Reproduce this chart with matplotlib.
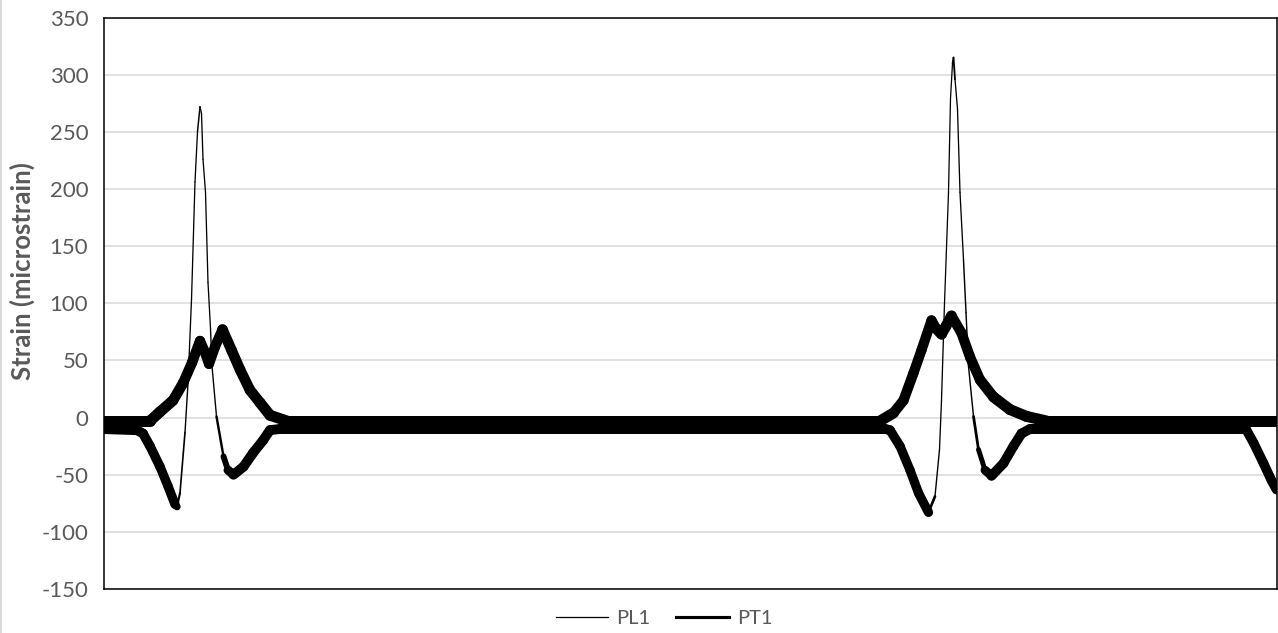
import matplotlib
matplotlib.use('Agg')
import matplotlib.pyplot as plt
from matplotlib.lines import Line2D
from matplotlib.collections import LineCollection
import numpy as np

# nominal time axis (no labels shown on the original chart)
t_pl1 = [0, 33.5, 39.5, 46.5, 56.5, 64.5, 71.5, 73.5, 76.5, 81.5, 84.5, 88, 91.5, 94,
         96.5, 98, 99.5, 102, 104.5, 107, 108.5, 113, 120, 124.5, 130, 140, 149.5,
         159.5, 166.5, 176.5, 781.5, 786.5, 796.5, 806.5, 815, 825, 831.5, 836, 838,
         841, 845, 847, 849, 850, 851.5, 854, 856.5, 860, 862.5, 865, 870, 875, 881.5,
         888, 900, 910, 918, 926.5, 1141.5, 1143, 1150, 1160, 1168, 1173]
pl1 = [-10, -11, -14, -25, -43, -60, -76, -78, -66, -13, 30, 103, 206, 250,
       272, 266, 226, 197, 118, 78, 45, 1, -34, -46, -50, -43, -31,
       -20, -11, -10, -10, -11, -25, -46, -66, -83, -69, -28, 15,
       100, 197, 279, 310, 315, 296, 270, 197, 138, 92, 45, 1, -28, -46,
       -51, -40, -25, -14, -10, -10, -11, -22, -40, -55, -63]

t_pt1 = [0, 46.5, 56.5, 69.5, 79.5, 88.5, 96.5, 101.5, 105.5, 111.5, 119, 128, 136.5,
         146.5, 156.5, 166.5, 183.5, 776.5, 790, 800, 810, 818, 828, 832.5, 838,
         842.5, 848, 858, 866.5, 876.5, 890, 906.5, 923, 943, 1173]
pt1 = [-3, -3, 5, 15, 30, 48, 67, 57, 47, 62, 77, 59, 42,
       24, 13, 2, -3, -3, 4, 15, 39, 59, 85, 78, 73,
       80, 89, 74, 53, 33, 18, 7, 1, -3, -3]

y_ticks = np.arange(-150, 351, 50)

plt.rcParams['font.family'] = ['Lato', 'DejaVu Sans']
grey_text = '#595959'

W, H = 1278, 633
ax_box = [103.5, 17.5, 1276.5, 589]   # left, top, right, bottom in pixels

fig = plt.figure(figsize=(W / 100, H / 100), dpi=100)
ax = fig.add_axes([ax_box[0] / W, 1 - ax_box[3] / H,
                   (ax_box[2] - ax_box[0]) / W, (ax_box[3] - ax_box[1]) / H])
px_per_unit = (ax_box[3] - ax_box[1]) / 500.0


def noisy_trace(t, v, band_px, thin_pt):
    # the recorded signals carry a noise band; it only shows as a thick
    # stroke where the trace moves slowly, steep flanks stay a thin line
    t = np.asarray(t, float)
    v = np.asarray(v, float)
    pts = np.column_stack([t, v])
    segs = np.stack([pts[:-1], pts[1:]], axis=1)
    slope = np.abs(np.diff(v) * px_per_unit / np.diff(t))
    # a segment sitting inside a steep excursion counts as steep too
    padded = np.concatenate([[0], slope, [0]])
    steep = np.maximum(np.maximum(padded[:-2], padded[2:]), slope)
    thin_px = thin_pt / 0.72
    lw_px = thin_px + (band_px - thin_px) / (1 + (steep / 6.0) ** 3)
    lc = LineCollection(segs, linewidths=lw_px * 0.72, colors='black',
                        capstyle='round', joinstyle='round')
    ax.add_collection(lc)


noisy_trace(t_pl1, pl1, 10.0, 0.9)
noisy_trace(t_pt1, pt1, 11.0, 2.25)

ax.set_xlim(0, 1173)
ax.set_ylim(-150, 350)
ax.set_xticks([])
ax.set_yticks(y_ticks)
ax.set_yticklabels([str(v) for v in y_ticks], fontsize=16, color=grey_text)
ax.tick_params(axis='y', length=0, pad=11)
ax.grid(axis='y', color='#d9d9d9', linewidth=1.1)
ax.set_axisbelow(True)
for s in ax.spines.values():
    s.set_color('black')
    s.set_linewidth(1.1)

fig.text(22 / W, 1 - 271 / H, 'Strain (microstrain)', rotation=90,
         ha='center', va='center', fontsize=18.5, fontweight='bold', color=grey_text)

handles = [Line2D([], [], color='black', linewidth=0.9),
           Line2D([], [], color='black', linewidth=2.25)]
fig.legend(handles, ['PL1', 'PT1'], loc='center', bbox_to_anchor=(664 / W, 1 - 618 / H),
           ncol=2, frameon=False, fontsize=14.5, handlelength=2.6, handletextpad=0.4,
           columnspacing=1.3, labelcolor=grey_text)

# light chart-area border on the left edge
fig.add_artist(Line2D([0.5 / W, 0.5 / W], [0, 1], color='#d9d9d9', linewidth=1.5))

fig.savefig('out.png', dpi=100)
